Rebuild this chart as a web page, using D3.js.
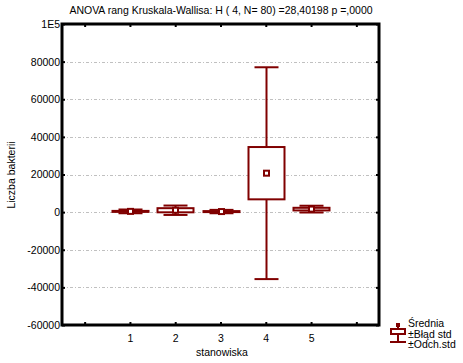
<html>
<head>
<style>
  body { margin: 0; background: #fff; }
  svg text { font-family: Arial, "Liberation Sans", sans-serif; font-size: 10.5px; fill: #000; }
  .grid line { stroke: #c0c0c0; stroke-dasharray: 3,2,1,2; }
</style>
<script src="https://d3js.org/d3.v7.min.js"></script>
</head>
<body>
<svg id="chart" width="463" height="363"></svg>
<script>
var categories = [1, 2, 3, 4, 5];
var means  = [400, 1000, 300, 20700, 1600];
var stdErr = [250, 1100, 250, 13900, 700];
var stdDev = [1000, 2500, 900, 56300, 1800];
var yTicks = [-60000, -40000, -20000, 0, 20000, 40000, 60000, 80000, 100000];
var xTicks = [0, 1, 2, 3, 4, 5, 6];

var plotL = 62, plotR = 379, plotT = 24, plotB = 325;
var red = "#800000";

var svg = d3.select("#chart");

var x = d3.scaleLinear().domain([-0.5, 6.5]).range([plotL, plotR]);
var y = d3.scaleLinear().domain([-60000, 100000]).range([plotB, plotT]);

// grid
svg.append("g").attr("class", "grid")
  .selectAll("line").data(yTicks.slice(1, -1)).enter().append("line")
  .attr("x1", plotL).attr("x2", plotR)
  .attr("y1", function(d) { return Math.round(y(d)) + 0.5; })
  .attr("y2", function(d) { return Math.round(y(d)) + 0.5; });

// boxes
var g = svg.append("g");
categories.forEach(function(c, i) {
  var cx = Math.round(x(c)) + 0.5;
  var m = means[i], se = stdErr[i], sd = stdDev[i];
  var bw = 36, cw = 24;
  g.append("line").attr("x1", cx).attr("x2", cx)
    .attr("y1", y(m + sd)).attr("y2", y(m - sd))
    .attr("stroke", red).attr("stroke-width", 2);
  [m + sd, m - sd].forEach(function(v) {
    g.append("line").attr("x1", cx - cw / 2).attr("x2", cx + cw / 2)
      .attr("y1", y(v)).attr("y2", y(v))
      .attr("stroke", red).attr("stroke-width", 2);
  });
  g.append("rect").attr("x", cx - bw / 2).attr("width", bw)
    .attr("y", y(m + se)).attr("height", Math.max(1, y(m - se) - y(m + se)))
    .attr("fill", "#fff").attr("stroke", red).attr("stroke-width", 2);
  g.append("rect").attr("x", cx - 2.5).attr("y", y(m) - 2.5)
    .attr("width", 5).attr("height", 5)
    .attr("fill", "#fff").attr("stroke", red).attr("stroke-width", 2);
});

// axes
var yAxis = d3.axisLeft(y).tickValues(yTicks).tickSize(-3).tickPadding(2)
  .tickFormat(function(d) { return d === 100000 ? "1E5" : d; });
var ya = svg.append("g").attr("transform", "translate(" + plotL + ",0)").call(yAxis);
var yr = svg.append("g").attr("transform", "translate(" + plotR + ",0)")
  .call(d3.axisRight(y).tickValues(yTicks).tickSize(-3).tickFormat(""));
var xAxis = d3.axisBottom(x).tickValues(xTicks).tickSize(-3).tickPadding(10)
  .tickFormat(function(d) { return (d >= 1 && d <= 5) ? d : ""; });
var xa = svg.append("g").attr("transform", "translate(0," + plotB + ")").call(xAxis);
var xt = svg.append("g").attr("transform", "translate(0," + plotT + ")")
  .call(d3.axisTop(x).tickValues(xTicks).tickSize(-3).tickFormat(""));
[ya, yr, xa, xt].forEach(function(a) {
  a.select(".domain").remove();
  a.selectAll("line").attr("stroke", "#000").attr("stroke-width", 2);
  a.selectAll("text").attr("font-family", null).attr("font-size", null);
});

// frame
svg.append("rect").attr("x", plotL).attr("y", plotT)
  .attr("width", plotR - plotL).attr("height", plotB - plotT)
  .attr("fill", "none").attr("stroke", "#000").attr("stroke-width", 3);

// texts
svg.append("text").attr("x", 221).attr("y", 14).attr("text-anchor", "middle")
  .text("ANOVA rang Kruskala-Wallisa: H ( 4, N= 80) =28,40198 p =,0000");
svg.append("text").attr("transform", "translate(15,175) rotate(-90)")
  .attr("text-anchor", "middle").text("Liczba bakterii");
svg.append("text").attr("x", 222).attr("y", 356).attr("text-anchor", "middle")
  .text("stanowiska");

// legend
var lg = svg.append("g");
lg.append("rect").attr("x", 396).attr("y", 323).attr("width", 4).attr("height", 4)
  .attr("fill", red);
lg.append("line").attr("x1", 398).attr("x2", 398).attr("y1", 327).attr("y2", 342)
  .attr("stroke", red).attr("stroke-width", 2);
lg.append("rect").attr("x", 391).attr("y", 329).attr("width", 14).attr("height", 5)
  .attr("fill", "#fff").attr("stroke", red).attr("stroke-width", 2);
lg.append("line").attr("x1", 390).attr("x2", 406).attr("y1", 342).attr("y2", 342)
  .attr("stroke", red).attr("stroke-width", 2);
var legTexts = ["Średnia", "±Błąd std", "±Odch.std"];
legTexts.forEach(function(t, i) {
  lg.append("text").attr("x", 408).attr("y", 327 + i * 10.5).text(t);
});
</script>
</body>
</html>
